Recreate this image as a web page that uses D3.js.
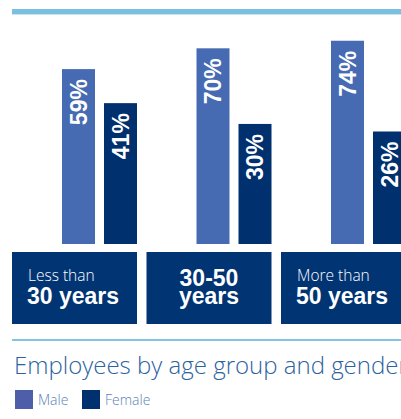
<!DOCTYPE html>
<html>
<head>
<meta charset="utf-8">
<script src="https://cdn.jsdelivr.net/npm/d3@7"></script>
<style>
  html, body { margin: 0; padding: 0; background: #fff; }
  svg { display: block; }
</style>
</head>
<body>
<div id="chart"></div>
<script>
// Age groups and the share of each gender within them (percent)
const categories = ["Less than 30 years", "30-50 years", "More than 50 years"];
const series = ["Male", "Female"];
const maleValues = [59, 70, 74];
const femaleValues = [41, 30, 26];
// Text shown in the dark box under each group
const categoryLead = ["Less than", null, "More than"];
const categoryMain = [["30 years"], ["30-50", "years"], ["50 years"]];
const chartTitle = "Employees by age group and gender";

const W = 401, H = 419;
const colors = { Male: "#476bb3", Female: "#00306e" };
const legendColors = { Male: "#4f5ea8", Female: "#00306e" };

const svg = d3.select("#chart").append("svg")
  .attr("width", W).attr("height", H);

// top rule
svg.append("rect").attr("x", 12).attr("y", 9).attr("width", W).attr("height", 5).attr("fill", "#7bc0e0");
svg.append("rect").attr("x", 12).attr("y", 14).attr("width", W).attr("height", 1).attr("fill", "#c6e5f3");

const x0 = d3.scaleBand().domain(categories).range([12, 406]).paddingInner(9.5 / 134.5).paddingOuter(0);
const x1 = d3.scaleBand().domain(series).range([50, 125]).paddingInner(9 / 42).paddingOuter(0);
const y = d3.scaleLinear().domain([-33.5, 80]).range([244, 29.4]);

const rows = categories.map((c, i) => ({
  cat: c, i,
  vals: [{ s: "Male", v: maleValues[i] }, { s: "Female", v: femaleValues[i] }]
}));

const g = svg.selectAll("g.group").data(rows).join("g")
  .attr("class", "group")
  .attr("transform", d => `translate(${x0(d.cat)},0)`);

// bars
g.selectAll("rect.bar").data(d => d.vals).join("rect")
  .attr("class", "bar")
  .attr("x", d => x1(d.s))
  .attr("y", d => y(d.v))
  .attr("width", x1.bandwidth())
  .attr("height", d => y.range()[0] - y(d.v))
  .attr("fill", d => colors[d.s]);

// rotated value labels inside the bars
g.selectAll("text.val").data(d => d.vals).join("text")
  .attr("class", "val")
  .attr("transform", d => `translate(${x1(d.s) + x1.bandwidth() / 2 + 8},${y(d.v) + 10}) rotate(-90)`)
  .attr("text-anchor", "end")
  .attr("fill", "#fff")
  .attr("font-family", "'Liberation Sans', Arial, sans-serif")
  .attr("font-weight", "bold")
  .attr("font-size", 23)
  .text(d => d.v + "%");

// category boxes
g.append("rect")
  .attr("x", 0).attr("y", 252)
  .attr("width", x0.bandwidth()).attr("height", 72)
  .attr("fill", "#003473");

g.each(function(d) {
  const sel = d3.select(this);
  const lead = categoryLead[d.i];
  const main = categoryMain[d.i];
  if (lead) {
    sel.append("text")
      .attr("x", 16).attr("y", 281)
      .attr("fill", "#fff")
      .attr("font-family", "'Open Sans', sans-serif")
      .attr("font-weight", 300)
      .attr("font-size", 15.5)
      .text(lead);
    sel.append("text")
      .attr("x", 15).attr("y", 304)
      .attr("fill", "#fff")
      .attr("font-family", "'Liberation Sans', Arial, sans-serif")
      .attr("font-weight", "bold")
      .attr("font-size", 23)
      .text(main[0]);
  } else {
    main.forEach((t, k) => {
      sel.append("text")
        .attr("x", x0.bandwidth() / 2).attr("y", 286 + k * 18)
        .attr("text-anchor", "middle")
        .attr("fill", "#fff")
        .attr("font-family", "'Liberation Sans', Arial, sans-serif")
        .attr("font-weight", "bold")
        .attr("font-size", 23)
        .text(t);
    });
  }
});

// rule above the title
svg.append("rect").attr("x", 12).attr("y", 339).attr("width", W).attr("height", 2).attr("fill", "#80c5e2");

svg.append("text")
  .attr("x", 14).attr("y", 374)
  .attr("fill", "#2d62a0")
  .attr("font-family", "'Open Sans', sans-serif")
  .attr("font-weight", 300)
  .attr("font-size", 24)
  .text(chartTitle);

// legend
const legendX = { Male: 15, Female: 82 };
const lg = svg.selectAll("g.legend").data(series).join("g")
  .attr("class", "legend")
  .attr("transform", s => `translate(${legendX[s]},390)`);
lg.append("rect").attr("width", 18).attr("height", 19).attr("fill", s => legendColors[s]);
lg.append("text")
  .attr("x", 23).attr("y", 15)
  .attr("fill", "#5b7fb6")
  .attr("font-family", "'Open Sans', sans-serif")
  .attr("font-weight", 300)
  .attr("font-size", 14)
  .text(s => s);
</script>
</body>
</html>
